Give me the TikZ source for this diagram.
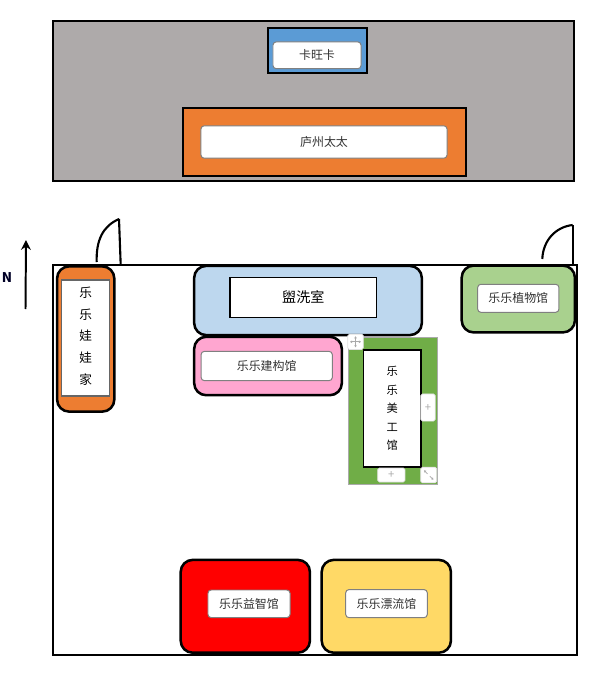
\documentclass[tikz,border=0pt]{standalone}
\usepackage{fontspec}
\usepackage{tikz}
\usetikzlibrary{arrows.meta}
\setmainfont{Noto Sans CJK SC}
\definecolor{shopgray}{RGB}{174,170,170}
\definecolor{shopblue}{RGB}{91,155,213}
\definecolor{shoporange}{RGB}{237,125,49}
\definecolor{washblue}{RGB}{189,215,238}
\definecolor{buildpink}{RGB}{255,166,208}
\definecolor{artgreen}{RGB}{112,173,71}
\definecolor{plantgreen}{RGB}{169,209,142}
\definecolor{puzzlered}{RGB}{255,0,0}
\definecolor{driftyellow}{RGB}{255,217,102}
\definecolor{handlegray}{RGB}{170,170,170}
\definecolor{tagtext}{RGB}{50,50,50}
\tikzset{
	wall/.style      = {draw=black, line width=1.6pt, inner sep=0},
	room/.style      = {draw=black, line width=1.8pt, rounded corners=.3cm, inner sep=0},
	tag/.style       = {draw=gray, fill=white, line width=.7pt, rounded corners=.08cm, inner sep=0, text=tagtext, font=\fontsize{8.5}{10}\selectfont},
	plate/.style     = {draw=black, fill=white, line width=.9pt, inner sep=0, text=black},
	handle/.style    = {draw=black!12, fill=white, line width=.5pt, rounded corners=.04cm, inner sep=0, text=handlegray, font=\fontsize{8}{8}\selectfont},
	door/.style      = {draw=black, line width=1.5pt},
	grip/.style      = {draw=handlegray, line width=.5pt, {Latex[length=1.5pt,width=2pt]}-{Latex[length=1.5pt,width=2pt]}}
}
\begin{document}
\begin{tikzpicture}[x=.025cm, y=-.025cm]
	\useasboundingbox (0,0) rectangle (600,676);

	%% Draw shops at the top
	\node[wall, fill=shopgray, minimum width=13.025cm, minimum height=4cm] (shops) at (313.5,101) {};
	\node[wall, fill=shopblue, minimum width=2.47cm, minimum height=1.125cm] (kawangka) at (317.3,50.5) {};
	\node[tag, minimum width=2.2cm, minimum height=.67cm] (kawangkatag) at (317,55.3) {卡旺卡};
	\node[wall, fill=shoporange, minimum width=7.07cm, minimum height=1.7cm] (luzhou) at (324.3,142) {};
	\node[tag, minimum width=6.15cm, minimum height=.81cm] (luzhoutag) at (324,142) {庐州太太};

	%% Draw hall and doors
	\node[wall, minimum width=13.08cm, minimum height=9.73cm] (hall) at (315,460) {};
	\coordinate (doorAfoot) at (120.7,265);
	\coordinate (doorAtop)  at (119,219);
	\coordinate (doorAarc)  at (96.7,262);
	\coordinate (doorBfoot) at (572.7,265);
	\coordinate (doorBtop)  at (572.7,225);
	\coordinate (doorBarc)  at (542.3,259);
	\draw[door] (doorAfoot) -- (doorAtop);
	\draw[door] (doorAarc) .. controls (96,240) and (103,226) .. (doorAtop);
	\draw[door] (doorBfoot) -- (doorBtop);
	\draw[door] (doorBarc) .. controls (543,241) and (555,227) .. (doorBtop);

	%% Draw north arrow
	\coordinate (arrowfoot) at (25.5,309);
	\coordinate (arrowtip)  at (26,240);
	\draw[line width=1.4pt, -{Stealth[length=7pt,width=7pt]}] (arrowfoot) -- (arrowtip);
	\node[font=\fontsize{9.5}{10}\selectfont\bfseries, text=black!85!blue] (north) at (7,278) {N};

	%% Draw rooms
	\node[room, fill=shoporange, minimum width=1.43cm, minimum height=3.63cm] (doll) at (85.7,339) {};
	\node[plate, draw=black!60, minimum width=1.2cm, minimum height=2.9cm] (dollplate) at (85.8,338) {};
	\node[align=center, inner sep=0, font=\fontsize{9}{15.4}\selectfont] (dolltag) at (85.8,336) {乐\\乐\\娃\\娃\\家};

	\node[room, fill=washblue, minimum width=5.69cm, minimum height=1.73cm] (wash) at (308,300.5) {};
	\node[plate, minimum width=3.67cm, minimum height=.99cm, font=\fontsize{10}{12}\selectfont] (washtag) at (303.3,297.5) {盥洗室};

	\node[room, fill=buildpink, minimum width=3.69cm, minimum height=1.46cm] (build) at (268,366) {};
	\node[tag, minimum width=3.28cm, minimum height=.73cm] (buildtag) at (266.7,366) {乐乐建构馆};

	\node[room, fill=plantgreen, minimum width=2.83cm, minimum height=1.67cm] (plant) at (518.3,299) {};
	\node[tag, minimum width=2.03cm, minimum height=.7cm] (planttag) at (518.3,298.3) {乐乐植物馆};

	\node[room, fill=puzzlered, minimum width=3.23cm, minimum height=2.32cm] (puzzle) at (245.3,606.3) {};
	\node[tag, minimum width=2.05cm, minimum height=.69cm] (puzzletag) at (249,603.8) {乐乐益智馆};

	\node[room, fill=driftyellow, minimum width=3.23cm, minimum height=2.32cm] (drift) at (386.3,606.3) {};
	\node[tag, minimum width=2.04cm, minimum height=.7cm] (drifttag) at (386.5,603.6) {乐乐漂流馆};

	%% Draw selected art room with its handles
	\node[draw=handlegray, fill=artgreen, line width=.6pt, inner sep=0, minimum width=2.21cm, minimum height=3.68cm] (art) at (393,411) {};
	\node[plate, minimum width=1.44cm, minimum height=2.93cm, align=center, font=\fontsize{8}{13.2}\selectfont] (arttag) at (392.2,408.5) {乐\\乐\\美\\工\\馆};

	\node[handle, minimum width=.39cm, minimum height=.38cm] (movehandle) at (355.5,341.8) {};
	\draw[grip] ([xshift=-.14cm]movehandle.center) -- ([xshift=.14cm]movehandle.center);
	\draw[grip] ([yshift=-.14cm]movehandle.center) -- ([yshift=.14cm]movehandle.center);
	\node[handle, minimum width=.36cm, minimum height=.68cm] (sidehandle) at (428,407.5) {+};
	\node[handle, minimum width=.68cm, minimum height=.35cm] (basehandle) at (391.3,475) {+};
	\node[handle, minimum width=.4cm, minimum height=.39cm] (cornerhandle) at (428.7,475) {};
	\draw[draw=handlegray, line width=.5pt, {Latex[length=1.5pt,width=2pt]}-] ([xshift=-.12cm,yshift=.12cm]cornerhandle.center) -- ([xshift=-.03cm,yshift=.03cm]cornerhandle.center);
	\draw[draw=handlegray, line width=.5pt, -{Latex[length=1.5pt,width=2pt]}] ([xshift=.03cm,yshift=-.03cm]cornerhandle.center) -- ([xshift=.12cm,yshift=-.12cm]cornerhandle.center);
\end{tikzpicture}
\end{document}
